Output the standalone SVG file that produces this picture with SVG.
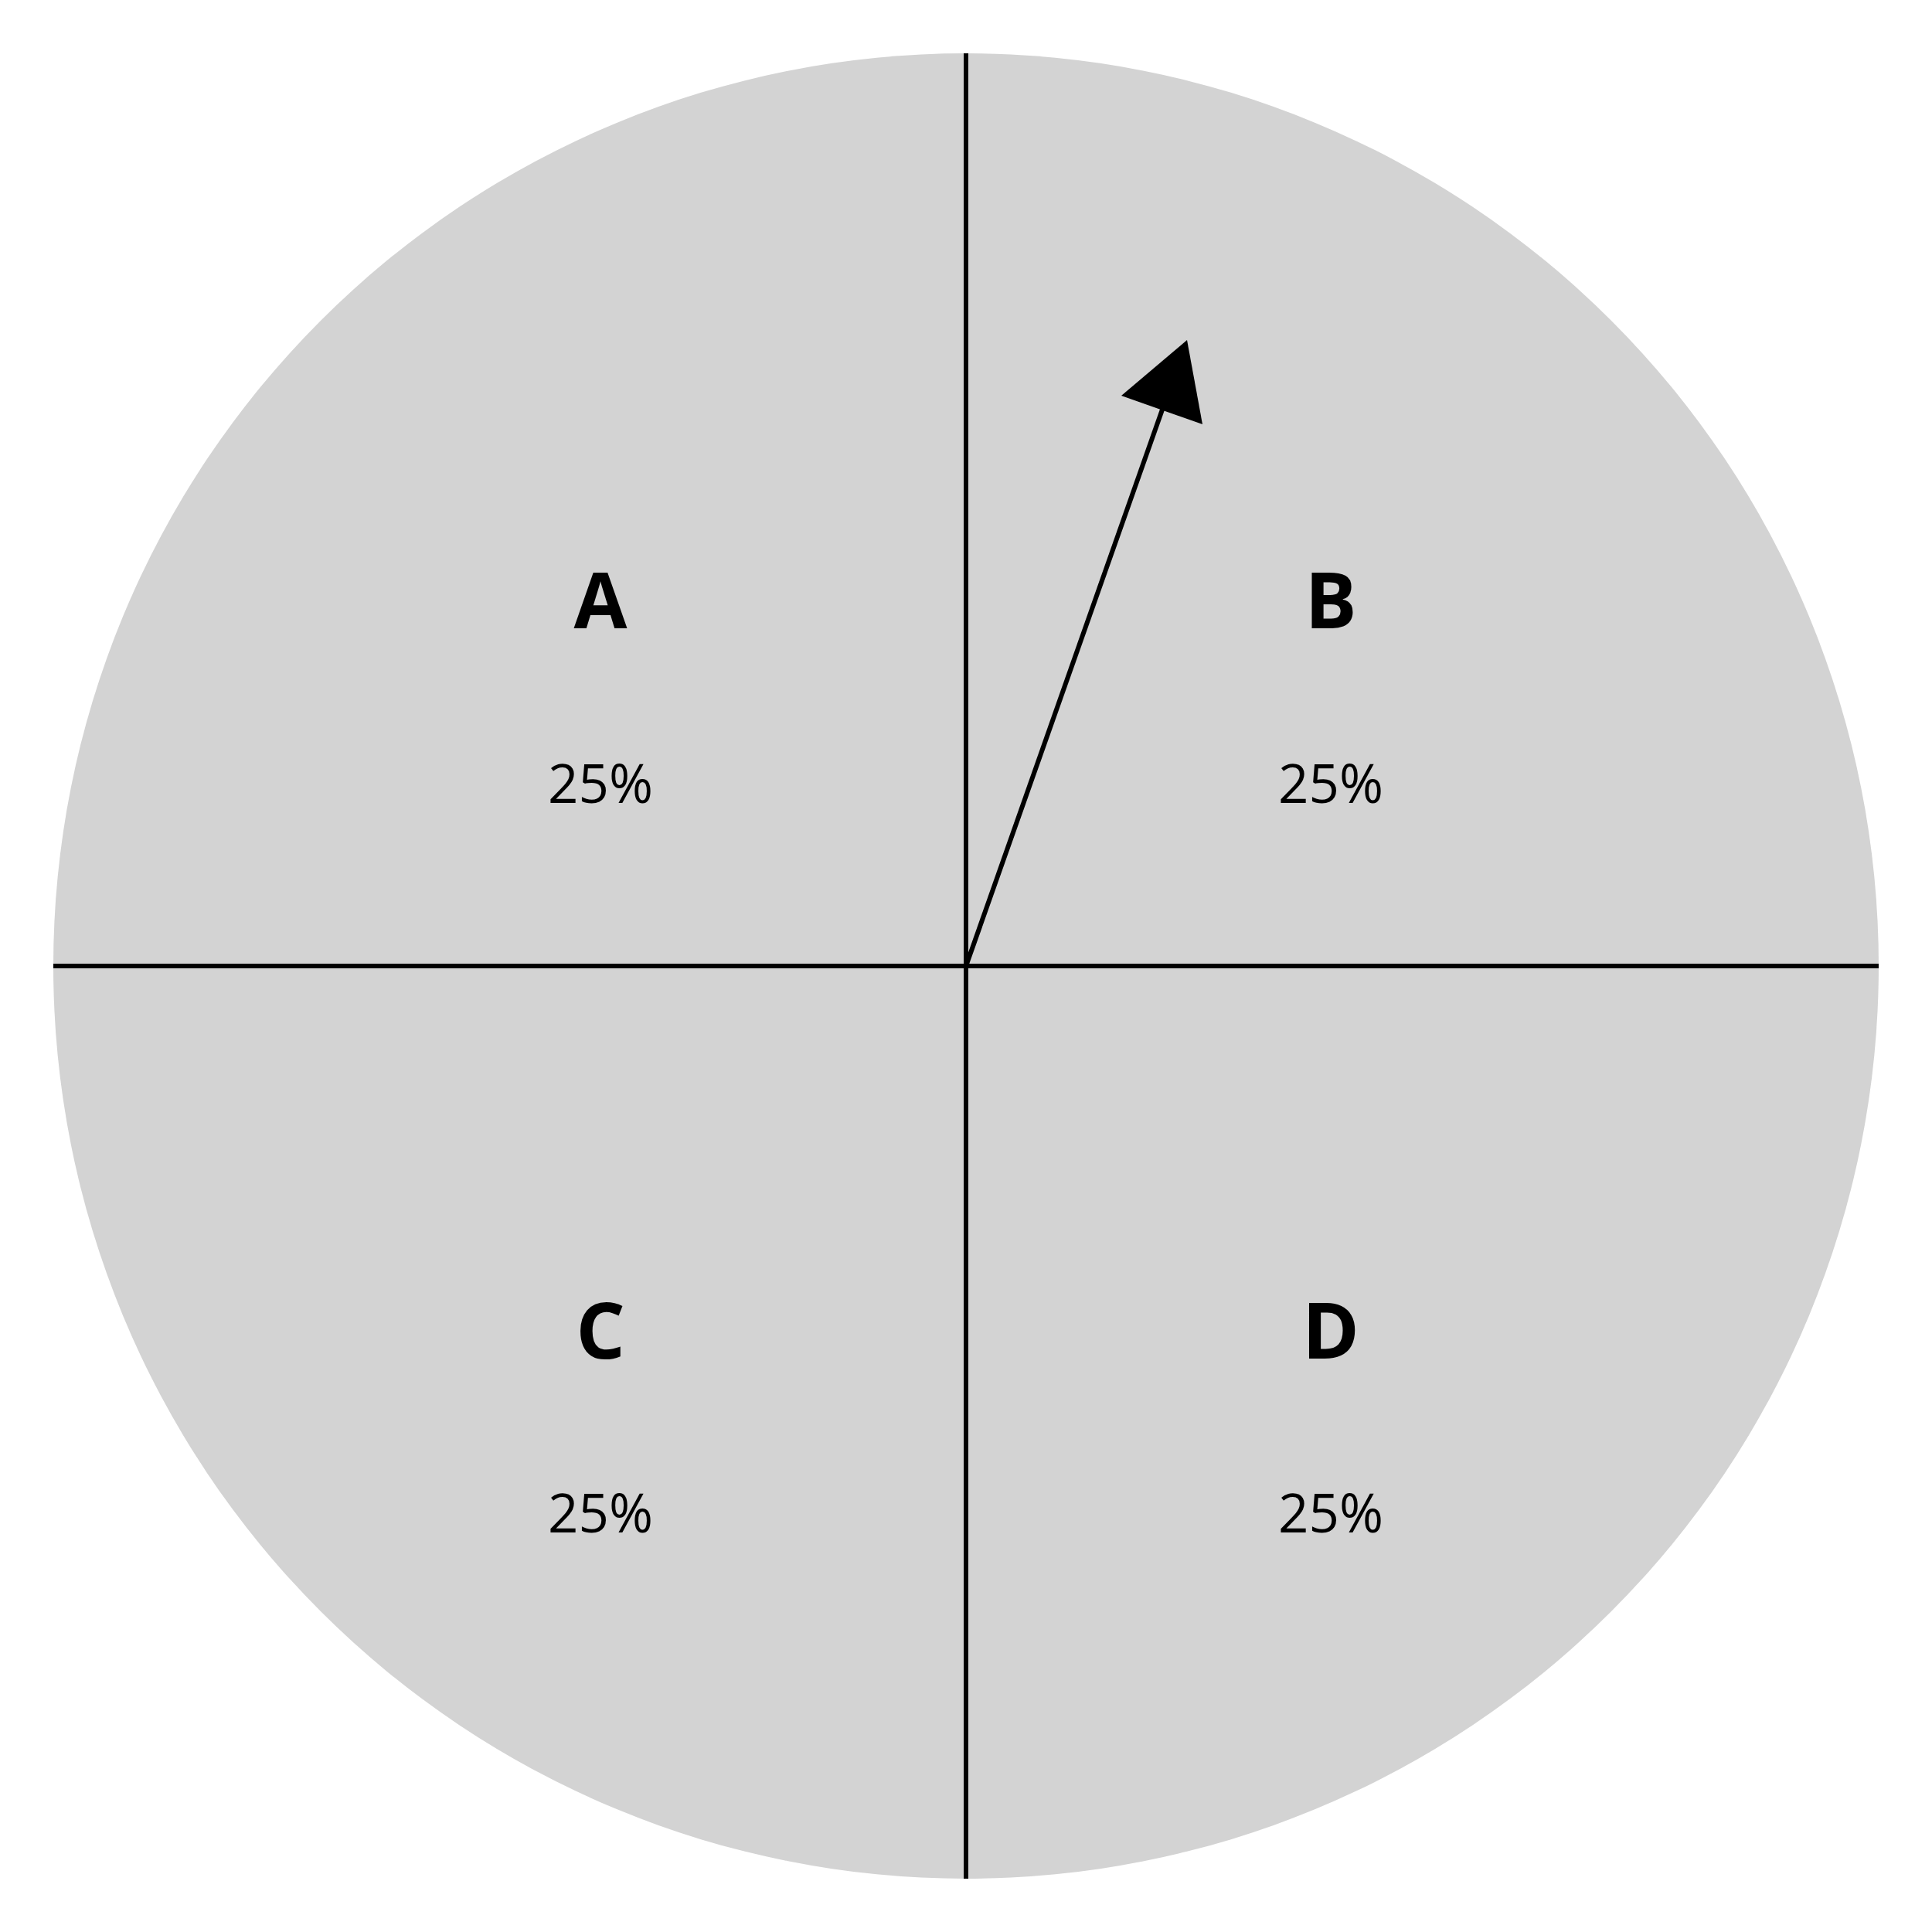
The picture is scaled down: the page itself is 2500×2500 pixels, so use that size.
<svg xmlns="http://www.w3.org/2000/svg" width="2500" height="2500" viewBox="0 0 2500 2500">
<style>
.lbl{font-family:"Open Sans","Noto Sans",sans-serif;font-weight:bold;font-size:100px;fill:#000;text-anchor:middle}
.pct{font-family:"Open Sans","Noto Sans",sans-serif;font-size:69px;fill:#000;text-anchor:middle}
.ln{stroke:#000;stroke-width:6;fill:none}
</style>
<rect width="2500" height="2500" fill="#fff"/>
<circle id="pie" cx="1250" cy="1250" r="1181" fill="#d3d3d3"/>
<g id="connectors">
<line class="ln" x1="1250" y1="69" x2="1250" y2="2431"/>
<line class="ln" x1="69" y1="1250" x2="2431" y2="1250"/>
<line class="ln" x1="1250" y1="1250" x2="1504" y2="530"/>
<polygon points="1536,440 1451,512 1556,549" fill="#000"/>
</g>
<g id="A"><text class="lbl" x="777" y="813">A</text><text class="pct" x="777" y="1039">25%</text></g>
<g id="B"><text class="lbl" x="1722" y="813">B</text><text class="pct" x="1722" y="1039">25%</text></g>
<g id="C"><text class="lbl" x="777" y="1758">C</text><text class="pct" x="777" y="1983">25%</text></g>
<g id="D"><text class="lbl" x="1722" y="1758">D</text><text class="pct" x="1722" y="1983">25%</text></g>
</svg>
